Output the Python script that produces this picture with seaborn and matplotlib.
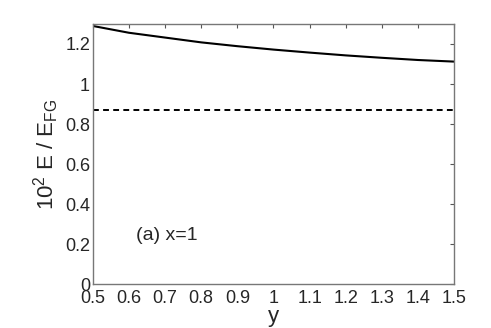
import seaborn as sns
import pandas as pd
import numpy as np
import matplotlib.pyplot as plt

y_vals = [0.5, 0.6, 0.7, 0.8, 0.9, 1.0, 1.1, 1.2, 1.3, 1.4, 1.5]
energy = [1.290, 1.256, 1.232, 1.208, 1.189, 1.172, 1.157, 1.143, 1.131, 1.120, 1.112]
fg_level = 0.868
xticks = [0.5, 0.6, 0.7, 0.8, 0.9, 1, 1.1, 1.2, 1.3, 1.4, 1.5]
yticks = [0, 0.2, 0.4, 0.6, 0.8, 1, 1.2]

sns.set_style("white")
plt.rcParams['font.family'] = ['Liberation Sans', 'DejaVu Sans']
plt.rcParams['mathtext.default'] = 'regular'

df = pd.DataFrame({'y': y_vals, 'E': energy})

fig = plt.figure(figsize=(4.91, 3.28), dpi=100)
ax = fig.add_axes([0.189, 0.133, 0.736, 0.794])
sns.lineplot(data=df, x='y', y='E', color='black', lw=1.5, ax=ax)
ax.axhline(fg_level, color='black', ls=(0, (3, 2.2)), lw=1.4)

ax.set_xlim(0.5, 1.5)
ax.set_ylim(0, 1.3)
ax.set_xticks(xticks)
ax.set_xticklabels([f'{t:g}' for t in xticks])
ax.set_yticks(yticks)
ax.set_yticklabels([f'{t:g}' for t in yticks])
ax.tick_params(direction='in', length=3, width=0.8, color='#555555',
               labelsize=13, top=True, right=True, pad=2)
ax.tick_params(axis='x', pad=4)
for s in ax.spines.values():
    s.set_color('#777777')
    s.set_linewidth(1)

ax.set_xlabel('y', fontsize=16, labelpad=-1)
ax.set_ylabel('10$^2$ E / E$_{FG}$', fontsize=16, labelpad=3)
ax.text(0.619, 0.245, '(a) x=1', fontsize=14, va='center', ha='left')

fig.savefig('out.png', dpi=100)
